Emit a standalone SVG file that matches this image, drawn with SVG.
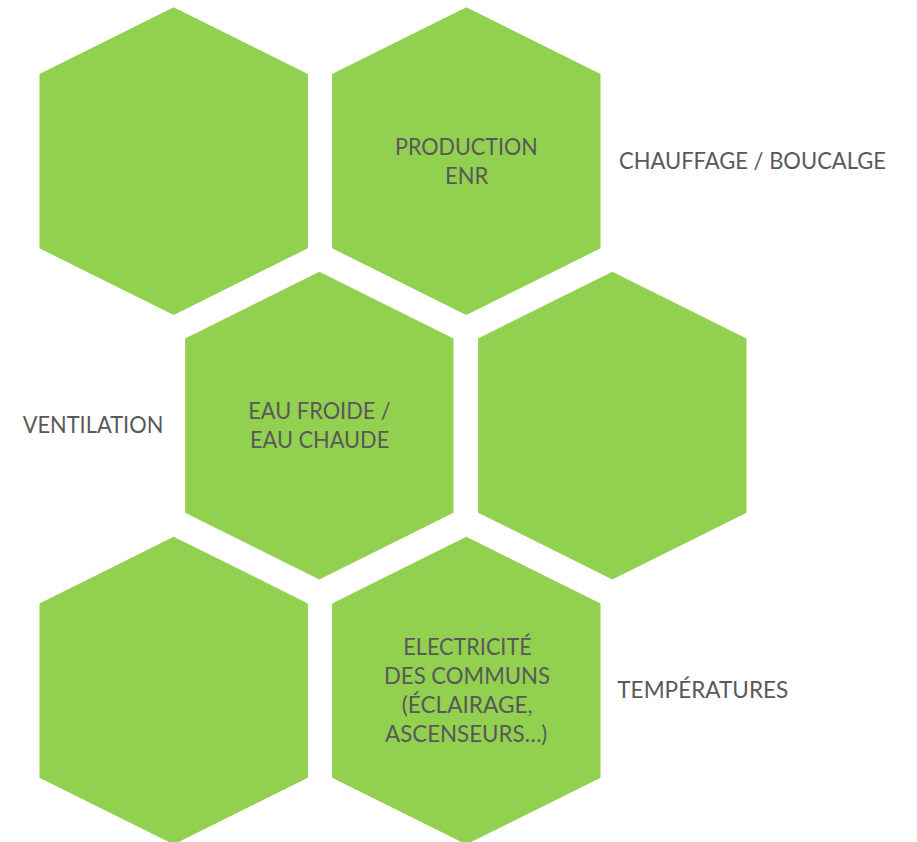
<svg xmlns="http://www.w3.org/2000/svg" xmlns:xlink="http://www.w3.org/1999/xlink" width="917" height="842" viewBox="0 0 917 842">
<style>
.hex{fill:#92D050;}
.t{font-family:Lato,"Open Sans","Liberation Sans",sans-serif;fill:#595959;text-anchor:middle;font-size:23.5px;}
.l{font-family:Lato,"Open Sans","Liberation Sans",sans-serif;fill:#595959;font-size:22.5px;}
</style>
<defs>
<path id="hx" d="M0,0 L134.2,66.7 L134.2,241 L0,307.7 L-134.2,241 L-134.2,66.7 Z"/>
</defs>
<rect width="917" height="842" fill="#ffffff"/>
<g id="hex1"><use xlink:href="#hx" class="hex" transform="translate(173.7,7.3)"/></g>
<g id="hex2"><use xlink:href="#hx" class="hex" transform="translate(466.3,7.3)"/>
<text class="t" x="466.3" y="155" textLength="142.7" lengthAdjust="spacingAndGlyphs">PRODUCTION</text><text class="t" x="466.6" y="184.3" textLength="43.3" lengthAdjust="spacingAndGlyphs">ENR</text></g>
<g id="hex3"><use xlink:href="#hx" class="hex" transform="translate(319.3,271.7)"/>
<text class="t" x="319.5" y="419.3" textLength="142.4" lengthAdjust="spacingAndGlyphs">EAU FROIDE /</text><text class="t" x="319.6" y="448.3" textLength="139.3" lengthAdjust="spacingAndGlyphs">EAU CHAUDE</text></g>
<g id="hex4"><use xlink:href="#hx" class="hex" transform="translate(612.3,271.7)"/></g>
<g id="hex5"><use xlink:href="#hx" class="hex" transform="translate(173.7,536.7)"/></g>
<g id="hex6"><use xlink:href="#hx" class="hex" transform="translate(466.3,536.7)"/>
<text class="t" x="467.5" y="655" textLength="128.3" lengthAdjust="spacingAndGlyphs">ELECTRICITÉ</text><text class="t" x="467" y="684" textLength="166" lengthAdjust="spacingAndGlyphs">DES COMMUNS</text><text class="t" x="467.2" y="713.3" textLength="131" lengthAdjust="spacingAndGlyphs">(ÉCLAIRAGE,</text><text class="t" x="466.2" y="742.3" textLength="162.3" lengthAdjust="spacingAndGlyphs">ASCENSEURS…)</text></g>
<g id="labels">
<text class="l" x="619" y="169" textLength="267" lengthAdjust="spacingAndGlyphs">CHAUFFAGE / BOUCALGE</text>
<text class="l" x="22.7" y="433.3" textLength="140.6" lengthAdjust="spacingAndGlyphs">VENTILATION</text>
<text class="l" x="617.3" y="698.3" textLength="171" lengthAdjust="spacingAndGlyphs">TEMPÉRATURES</text>
</g>
<g id="connectors"></g>
</svg>
